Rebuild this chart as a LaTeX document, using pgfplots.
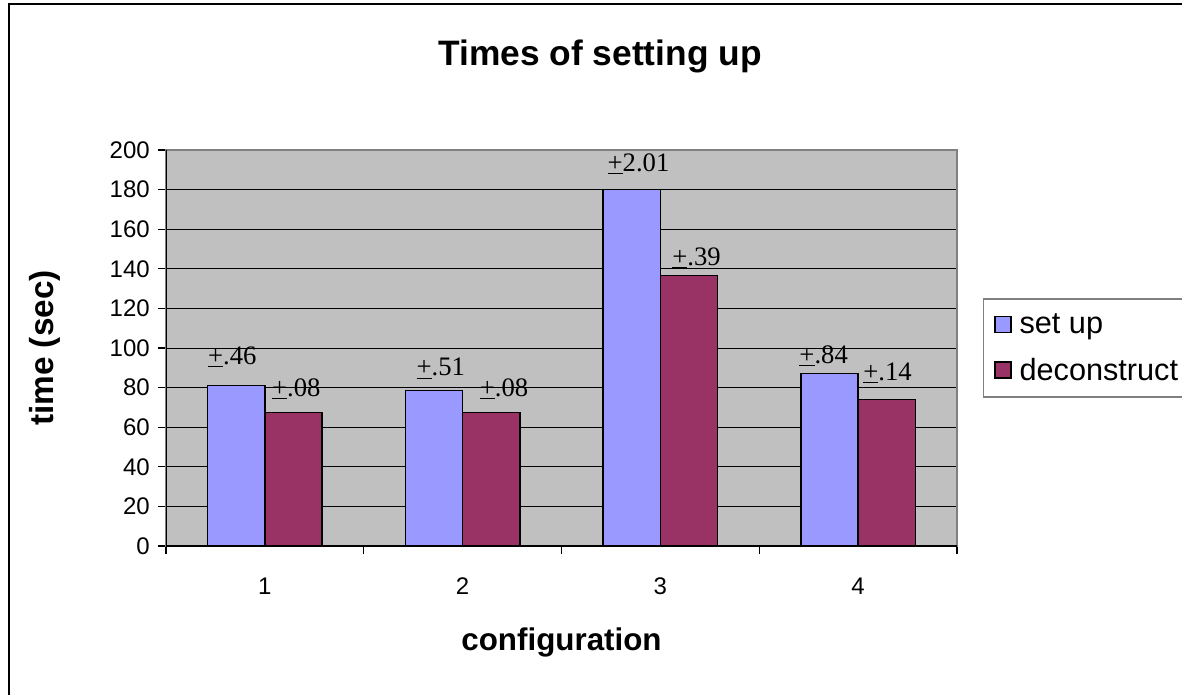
\documentclass[border=0pt]{standalone}
\usepackage{pgfplots}
\pgfplotsset{compat=1.18}
\usepackage{fontspec}
\setmainfont{Liberation Sans}
\newfontfamily\serif{Liberation Serif}

\definecolor{setup}{HTML}{9999FF}
\definecolor{decon}{HTML}{993366}
\definecolor{plotbg}{HTML}{C0C0C0}
\definecolor{frame}{HTML}{808080}

% seconds per configuration
\pgfplotstableread{
cfg setup decon
1   81    67.5
2   78.5  67.5
3   180   136.5
4   87    74
}\datatable

\begin{document}
\begin{tikzpicture}
% 1 px of the reference = 0.75pt
\useasboundingbox (0,0) rectangle (886.5pt,-521.25pt);
\draw[black, line width=1.1pt] (6.75pt,-3pt) rectangle (900pt,-530pt);
\begin{axis}[
  at={(124.5pt,-409.5pt)}, anchor=south west,
  scale only axis, width=593.25pt, height=297pt,
  xmin=0.5, xmax=4.5, ymin=0, ymax=200,
  axis background/.style={fill=plotbg},
  axis line style={draw=frame, line width=1.5pt},
  ymajorgrids, major grid style={black, line width=0.7pt},
  ytick={0,20,...,200}, ytick pos=left,
  xtick={1,2,3,4}, xtick pos=left,
  minor xtick={0.5,1.5,2.5,3.5,4.5},
  tick align=outside, major tick length=6pt, minor tick length=6pt,
  ytick style={black, line width=0.9pt},
  major x tick style={draw=none},
  minor x tick style={black, line width=0.9pt},
  /pgf/number format/assume math mode=true,
  ticklabel style={font=\fontsize{18}{18}\selectfont},
  xticklabel style={anchor=base, yshift=-30pt},
  yticklabel style={anchor=east, inner sep=0pt, xshift=-6pt},
  title={Times of setting up},
  title style={font=\bfseries\fontsize{26.5}{26.5}\selectfont,
    at={(axis description cs:0.5487,1.1944)}, anchor=base},
  xlabel={configuration},
  xlabel style={font=\bfseries\fontsize{23.5}{23.5}\selectfont,
    at={(axis description cs:0.5,-0.265)}, anchor=base},
  ylabel={time (sec)},
  ylabel style={font=\bfseries\fontsize{25}{25}\selectfont,
    at={(axis description cs:-0.153,0.5)}, anchor=center},
  legend style={at={(1.0325,0.626)}, anchor=north west,
    draw=frame, line width=1.1pt, fill=white,
    font=\fontsize{23}{23}\selectfont, row sep=13pt,
    inner xsep=8pt, inner ysep=9pt,
    nodes={inner xsep=6pt}},
  legend cell align=left,
  legend image code/.code={
    \draw[#1, draw=black, line width=1.1pt] (0pt,-6pt) rectangle (12pt,6pt);},
]
\addplot[ybar, bar width=0.289, bar shift=-0.1445, fill=setup, draw=black, line width=1.1pt]
  table[x=cfg, y=setup] {\datatable};
\addplot[ybar, bar width=0.289, bar shift=0.1445, fill=decon, draw=black, line width=1.1pt]
  table[x=cfg, y=decon] {\datatable};
\legend{set up, deconstruct}
\draw[black, line width=1.1pt] (rel axis cs:0,1) -- (rel axis cs:0,0) -- (rel axis cs:1,0);
\tikzset{lbl/.style={anchor=base west, inner sep=0pt, font=\serif\fontsize{20}{20}\selectfont}}
\node[lbl] at (axis cs:0.712,91.9) {\underline{+}.46};
\node[lbl] at (axis cs:1.035,75.4) {\underline{+}.08};
\node[lbl] at (axis cs:1.766,85.9) {\underline{+}.51};
\node[lbl] at (axis cs:2.086,75.4) {\underline{+}.08};
\node[lbl] at (axis cs:2.732,189.0) {\underline{+}2.01};
\node[lbl] at (axis cs:3.059,141.9) {\underline{+}.39};
\node[lbl] at (axis cs:3.702,92.3) {\underline{+}.84};
\node[lbl] at (axis cs:4.025,83.5) {\underline{+}.14};
\end{axis}
\end{tikzpicture}
\end{document}
